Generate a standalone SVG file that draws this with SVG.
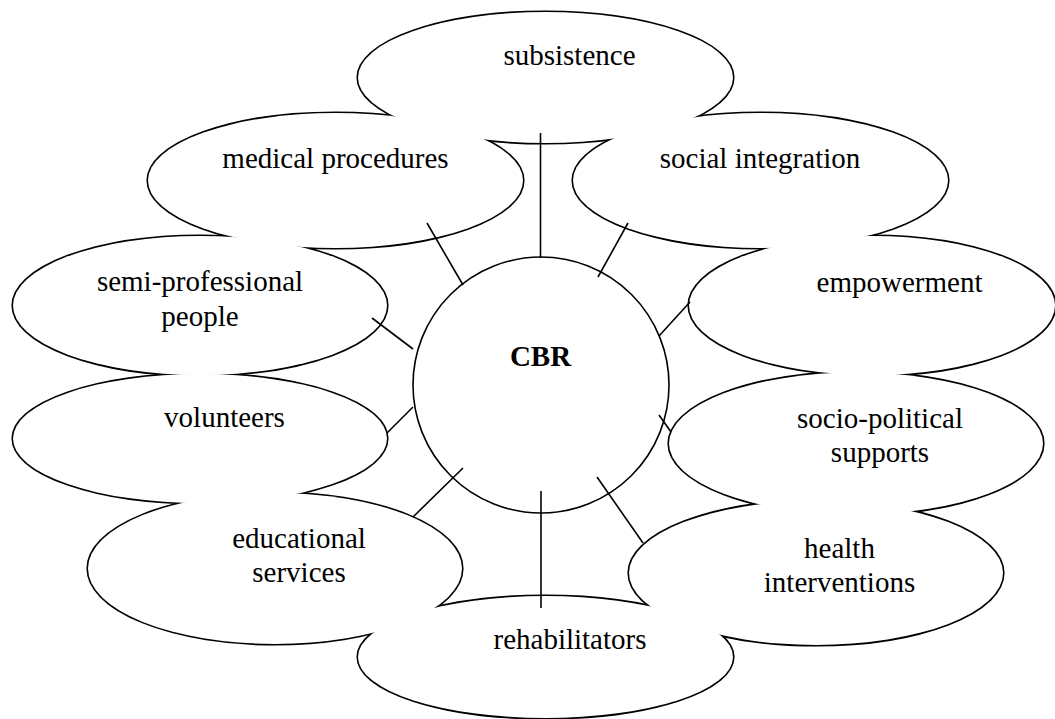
<svg xmlns="http://www.w3.org/2000/svg" xmlns:xlink="http://www.w3.org/1999/xlink" width="1055" height="719" viewBox="0 0 1055 719">
<style>
.outline use{fill:none;stroke:#000;stroke-width:3.2}
.fill{fill:#fff;stroke:none}
text{font-family:"Liberation Serif","Times New Roman",serif;font-size:29px;fill:#000;text-anchor:middle}
.hub{fill:#fff;stroke:#000;stroke-width:1.6}
.bold{font-weight:bold}
#connectors line{stroke:#000;stroke-width:1.6}
</style>
<defs>
<ellipse id="e-subsistence" cx="545.5" cy="77.5" rx="187.5" ry="65.5"/>
<ellipse id="e-medical" cx="335.5" cy="180.5" rx="187.5" ry="67.5"/>
<ellipse id="e-social" cx="760.5" cy="180.5" rx="187.5" ry="67.5"/>
<ellipse id="e-semi" cx="200" cy="305.5" rx="187" ry="69.5"/>
<ellipse id="e-empower" cx="872" cy="305.5" rx="183" ry="69.5"/>
<ellipse id="e-volunteers" cx="200" cy="438.5" rx="187" ry="64.5"/>
<ellipse id="e-socio" cx="856" cy="443.5" rx="187" ry="71"/>
<ellipse id="e-edu" cx="275" cy="568.5" rx="187" ry="75.5"/>
<ellipse id="e-health" cx="816" cy="573" rx="187" ry="72"/>
<ellipse id="e-rehab" cx="545.5" cy="657" rx="187.5" ry="61"/>
</defs>
<g class="outline">
<use xlink:href="#e-subsistence"/>
<use xlink:href="#e-medical"/>
<use xlink:href="#e-social"/>
<use xlink:href="#e-semi"/>
<use xlink:href="#e-empower"/>
<use xlink:href="#e-volunteers"/>
<use xlink:href="#e-socio"/>
<use xlink:href="#e-edu"/>
<use xlink:href="#e-health"/>
<use xlink:href="#e-rehab"/>
</g>
<g id="node-subsistence"><use class="fill" xlink:href="#e-subsistence"/><text x="569.5" y="65">subsistence</text></g>
<g id="node-medical"><use class="fill" xlink:href="#e-medical"/><text x="335.5" y="168">medical procedures</text></g>
<g id="node-social"><use class="fill" xlink:href="#e-social"/><text x="760" y="168">social integration</text></g>
<g id="node-semi"><use class="fill" xlink:href="#e-semi"/><text x="200" y="291">semi-professional</text><text x="200" y="326">people</text></g>
<g id="node-empowerment"><use class="fill" xlink:href="#e-empower"/><text x="899.5" y="292">empowerment</text></g>
<g id="node-volunteers"><use class="fill" xlink:href="#e-volunteers"/><text x="224.5" y="427">volunteers</text></g>
<g id="node-socio"><use class="fill" xlink:href="#e-socio"/><text x="880" y="428">socio-political</text><text x="880" y="462">supports</text></g>
<g id="node-educational"><use class="fill" xlink:href="#e-edu"/><text x="299" y="548">educational</text><text x="299" y="582">services</text></g>
<g id="node-health"><use class="fill" xlink:href="#e-health"/><text x="839.5" y="558">health</text><text x="839.5" y="592">interventions</text></g>
<g id="node-rehab"><use class="fill" xlink:href="#e-rehab"/><text x="570" y="649">rehabilitators</text></g>
<g id="node-cbr"><circle class="hub" cx="541" cy="385" r="128"/><text class="bold" x="540.5" y="366">CBR</text></g>
<g id="connectors">
<line x1="540.5" y1="133" x2="540.5" y2="258"/>
<line x1="427" y1="223" x2="463" y2="285"/>
<line x1="628" y1="223" x2="598" y2="277"/>
<line x1="690" y1="302" x2="659" y2="336"/>
<line x1="659" y1="415" x2="671" y2="432"/>
<line x1="597" y1="477" x2="643" y2="543"/>
<line x1="541" y1="491" x2="541" y2="608"/>
<line x1="413" y1="517" x2="463" y2="468"/>
<line x1="387" y1="433" x2="413" y2="407"/>
<line x1="372" y1="318" x2="413" y2="349"/>
</g>
</svg>
